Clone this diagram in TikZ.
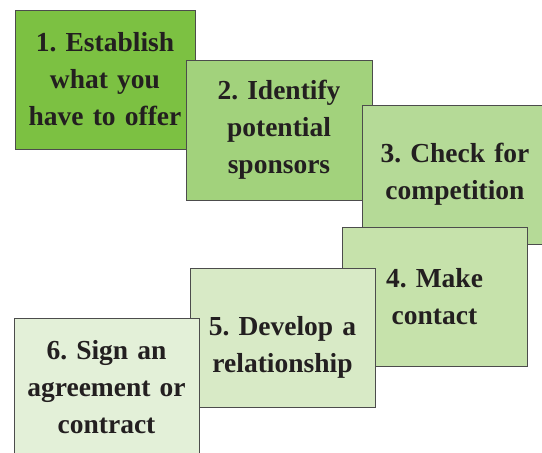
\documentclass[tikz,border=0pt]{standalone}
\usepackage{fontspec}
\setmainfont{Liberation Serif}
\frenchspacing
\definecolor{step1}{HTML}{7CC142}
\definecolor{step2}{HTML}{A2D27C}
\definecolor{step3}{HTML}{B5DA97}
\definecolor{step4}{HTML}{C6E2AB}
\definecolor{step5}{HTML}{D8EAC6}
\definecolor{step6}{HTML}{E3F0D8}
\definecolor{inktext}{HTML}{231F20}
\tikzset{
  stepbox/.style={draw=black!70, line width=0.8pt, inner sep=0pt,
    text width=#1, minimum height=139pt, align=center, text=inktext,
    font=\fontsize{27.5}{37}\selectfont\bfseries},
  stepbox/.default=185pt
}
\begin{document}
\begin{tikzpicture}[x=1pt, y=-1pt]
    \useasboundingbox (0,0) rectangle (542,453);
    \clip (0,0) rectangle (542,453);

    \node (b1) [stepbox=180pt, fill=step1] at (105,79.5) {1. Establish\\what you\\have to offer};
    \node (b2) [stepbox=186pt, fill=step2, minimum height=140pt] at (279,130) {2. Identify\\potential\\sponsors};
    \node (b3) [stepbox=186pt, fill=step3] at (455,174.5) {3. Check for\\competition};
    \node (b4) [stepbox, fill=step4] at (434.5,296.5) {4. Make\\contact};
    % text sits a little low in this one
    \node (b5) [stepbox, fill=step5] at (282.5,337.5) {\rule{0pt}{38pt}5. Develop a\\relationship};
    \node (b6) [stepbox, fill=step6] at (106.5,387.5) {6. Sign an\\agreement or\\contract};

\end{tikzpicture}
\end{document}
